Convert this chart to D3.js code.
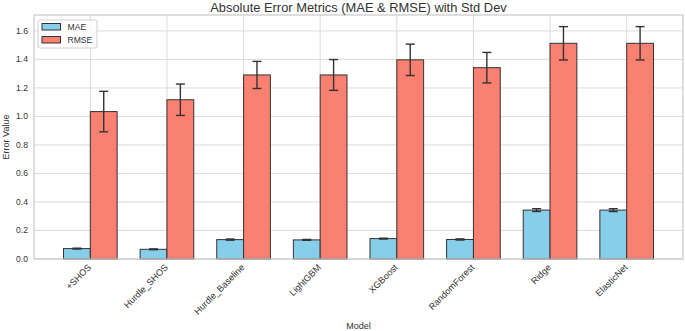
<!DOCTYPE html>
<html>
<head>
<meta charset="utf-8">
<script src="https://cdn.jsdelivr.net/npm/d3@7"></script>
<style>
  body { margin: 0; background: #fff; }
  text { font-family: "Liberation Sans", Arial, sans-serif; fill: #333; }
</style>
</head>
<body>
<div id="chart"></div>
<script>
// data
const models = ["+SHOS", "Hurdle_SHOS", "Hurdle_Baseline", "LightGBM", "XGBoost", "RandomForest", "Ridge", "ElasticNet"];
const maeValues = [0.073, 0.068, 0.136, 0.134, 0.143, 0.137, 0.343, 0.343];
const maeStd = [0.003, 0.003, 0.004, 0.003, 0.003, 0.004, 0.010, 0.010];
const rmseValues = [1.034, 1.117, 1.291, 1.291, 1.397, 1.342, 1.513, 1.513];
const rmseStd = [0.142, 0.110, 0.095, 0.108, 0.110, 0.107, 0.117, 0.117];
const yTicks = [0.0, 0.2, 0.4, 0.6, 0.8, 1.0, 1.2, 1.4, 1.6];

const W = 685, H = 331;
const margin = { top: 15, right: 2, bottom: 72, left: 34 },
    width = W - margin.left - margin.right,
    height = H - margin.top - margin.bottom;

const svg = d3.select("#chart")
    .append("svg")
    .attr("width", W)
    .attr("height", H);

const g = svg.append("g")
    .attr("transform", `translate(${margin.left},${margin.top})`);

// x: category index with matplotlib-like margins
const barW = 0.35;
const x = d3.scaleLinear()
    .domain([-0.735, models.length - 1 + 0.735])
    .range([0, width]);

const yMax = d3.max(rmseValues.map((v, i) => v + rmseStd[i])) * 1.05;
const y = d3.scaleLinear()
    .domain([0, yMax])
    .range([height, 0]);

// grid
g.append("g")
    .selectAll("line")
    .data(yTicks)
    .join("line")
    .attr("x1", 0).attr("x2", width)
    .attr("y1", d => y(d)).attr("y2", d => y(d))
    .attr("stroke", "#dcdcdc").attr("stroke-width", 1);

g.append("g")
    .selectAll("line")
    .data(models)
    .join("line")
    .attr("x1", (d, i) => x(i)).attr("x2", (d, i) => x(i))
    .attr("y1", 0).attr("y2", height)
    .attr("stroke", "#dcdcdc").attr("stroke-width", 1);

// series
const series = [
    { name: "MAE", values: maeValues, std: maeStd, color: "#87CEEB", offset: -barW / 2 },
    { name: "RMSE", values: rmseValues, std: rmseStd, color: "#FA8072", offset: barW / 2 }
];

const bw = x(barW) - x(0);

series.forEach(s => {
    const sg = g.append("g");
    sg.selectAll("rect")
        .data(s.values)
        .join("rect")
        .attr("x", (d, i) => x(i + s.offset) - bw / 2)
        .attr("y", d => y(d))
        .attr("width", bw)
        .attr("height", d => y(0) - y(d))
        .attr("fill", s.color)
        .attr("stroke", "#333")
        .attr("stroke-width", 1);
});

// error bars on top
series.forEach(s => {
    const eg = g.append("g")
        .attr("stroke", "#333")
        .attr("stroke-width", 1.4);
    s.values.forEach((v, i) => {
        const cx = x(i + s.offset);
        const lo = y(v - s.std[i]), hi = y(v + s.std[i]);
        eg.append("line").attr("x1", cx).attr("x2", cx).attr("y1", lo).attr("y2", hi);
        eg.append("line").attr("x1", cx - 4.5).attr("x2", cx + 4.5).attr("y1", lo).attr("y2", lo);
        eg.append("line").attr("x1", cx - 4.5).attr("x2", cx + 4.5).attr("y1", hi).attr("y2", hi);
    });
});

// frame
g.append("rect")
    .attr("width", width).attr("height", height)
    .attr("fill", "none")
    .attr("stroke", "#c8c8c8").attr("stroke-width", 1.2);

// y axis labels
g.append("g")
    .selectAll("text")
    .data(yTicks)
    .join("text")
    .attr("x", -6)
    .attr("y", d => y(d))
    .attr("dy", "0.35em")
    .attr("text-anchor", "end")
    .attr("font-size", "8.6px")
    .text(d => d.toFixed(1));

// x tick labels, rotated 45
g.append("g")
    .selectAll("text")
    .data(models)
    .join("text")
    .attr("text-anchor", "end")
    .attr("font-size", "9.1px")
    .attr("transform", (d, i) => `translate(${x(i) + 1.5},${height + 9}) rotate(-45)`)
    .text(d => d);

// axis titles
svg.append("text")
    .attr("x", margin.left + width / 2)
    .attr("y", 328.5)
    .attr("text-anchor", "middle")
    .attr("font-size", "9px")
    .text("Model");

svg.append("text")
    .attr("transform", `translate(8.5,${margin.top + height / 2}) rotate(-90)`)
    .attr("text-anchor", "middle")
    .attr("font-size", "9px")
    .text("Error Value");

svg.append("text")
    .attr("x", margin.left + width / 2)
    .attr("y", 12)
    .attr("text-anchor", "middle")
    .attr("font-size", "12.9px")
    .text("Absolute Error Metrics (MAE & RMSE) with Std Dev");

// legend
const lg = g.append("g").attr("transform", "translate(4,5)");
lg.append("rect")
    .attr("width", 59).attr("height", 28)
    .attr("rx", 2)
    .attr("fill", "#fff").attr("fill-opacity", 0.8)
    .attr("stroke", "#d0d0d0");
series.forEach((s, i) => {
    lg.append("rect")
        .attr("x", 4).attr("y", 3.5 + i * 13)
        .attr("width", 18.5).attr("height", 6.5)
        .attr("fill", s.color).attr("stroke", "#333");
    lg.append("text")
        .attr("x", 29.5).attr("y", 6.8 + i * 13)
        .attr("dy", "0.35em")
        .attr("font-size", "8.6px")
        .text(s.name);
});
</script>
</body>
</html>
